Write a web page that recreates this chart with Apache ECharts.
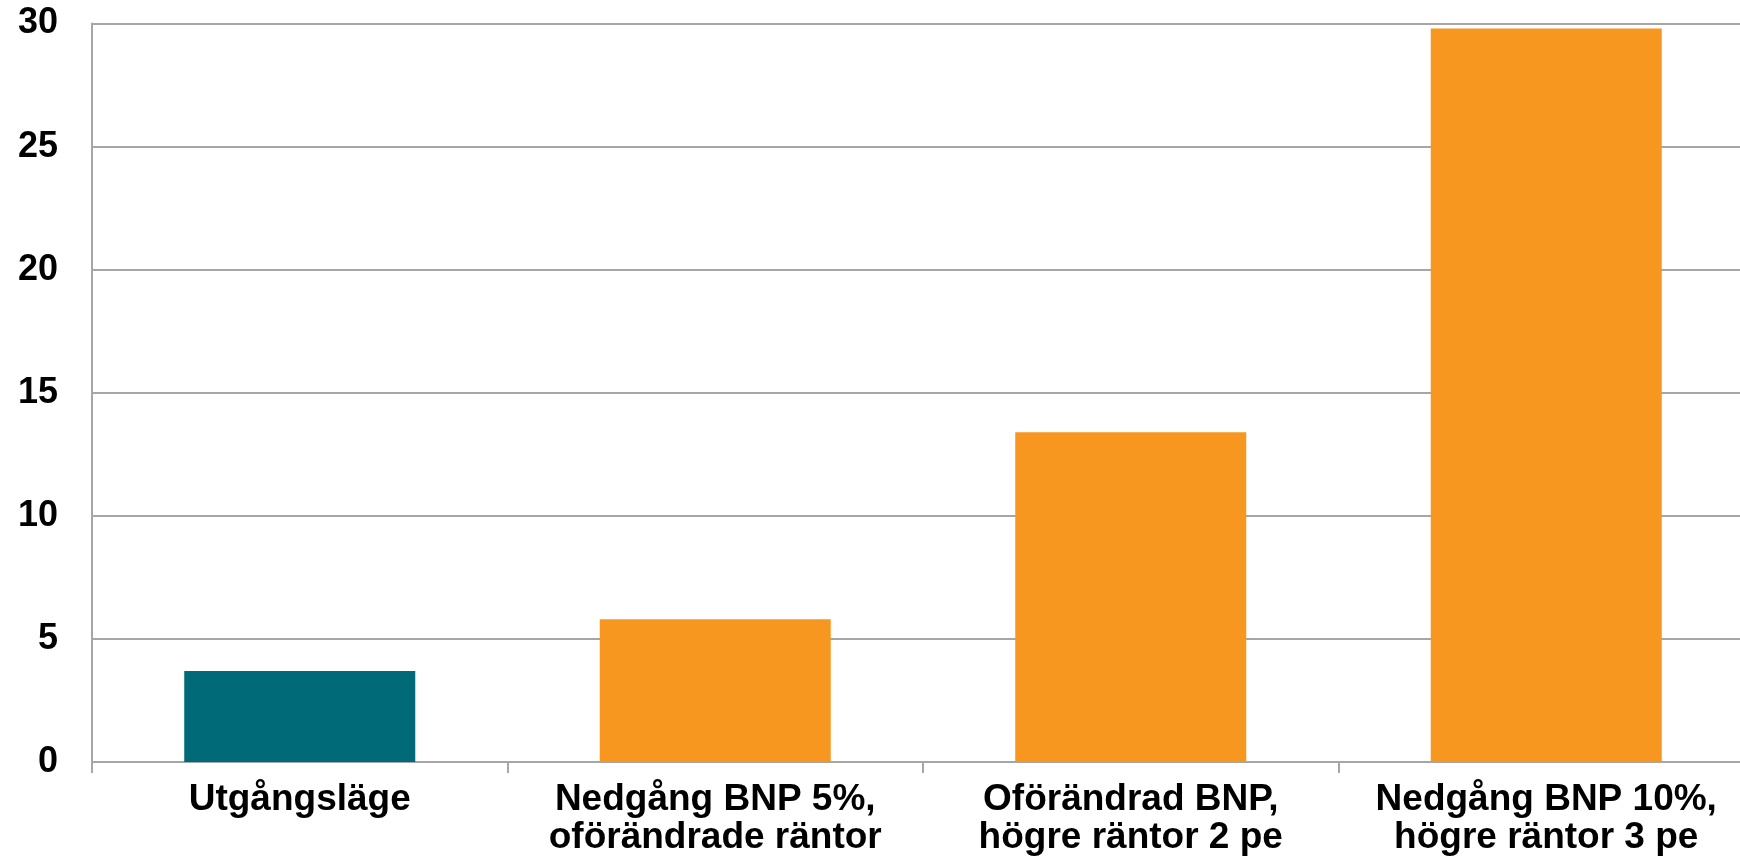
<!DOCTYPE html>
<html>
<head>
<meta charset="utf-8">
<script src="https://cdn.jsdelivr.net/npm/echarts@6/dist/echarts.min.js"></script>
<style>
  html, body { margin: 0; padding: 0; background: #ffffff; }
  #chart { width: 1740px; height: 858px; }
</style>
</head>
<body>
<div id="chart"></div>
<script>
// Scenario labels (second line is cut short in the source layout)
const categories = [
  'Utgångsläge',
  'Nedgång BNP 5%,\noförändrade räntor',
  'Oförändrad BNP,\nhögre räntor 2 pe',
  'Nedgång BNP 10%,\nhögre räntor 3 pe'
];
const values = [3.7, 5.8, 13.4, 29.8];
const barColors = ['#006a79', '#f7971f', '#f7971f', '#f7971f'];
const yTicks = { min: 0, max: 30, interval: 5 };

const axisGray = '#a6a6a6';
const font = '"Liberation Sans", Arial, Helvetica, sans-serif';

const chart = echarts.init(document.getElementById('chart'), null, { renderer: 'canvas' });

chart.setOption({
  animation: false,
  backgroundColor: '#ffffff',
  // plot area runs slightly past the right edge of the canvas
  grid: {
    left: 92, top: 23.5, width: 1662, height: 738.5,
    containLabel: false,
    outerBoundsMode: 'none'
  },
  xAxis: {
    type: 'category',
    data: categories,
    axisLine: { show: true, lineStyle: { color: axisGray, width: 2 } },
    axisTick: { show: true, length: 11, lineStyle: { color: axisGray, width: 2 } },
    axisLabel: {
      margin: 19,
      interval: 0,
      color: '#000000',
      fontFamily: font,
      fontWeight: 'bold',
      fontSize: 37,
      lineHeight: 38,
      align: 'center'
    }
  },
  yAxis: {
    type: 'value',
    min: yTicks.min,
    max: yTicks.max,
    interval: yTicks.interval,
    axisLine: { show: true, lineStyle: { color: axisGray, width: 2 } },
    axisTick: { show: false },
    splitLine: { show: true, lineStyle: { color: axisGray, width: 2 } },
    axisLabel: {
      margin: 34,
      color: '#000000',
      fontFamily: font,
      fontWeight: 'bold',
      fontSize: 36
    }
  },
  series: [{
    type: 'bar',
    data: values.map((v, i) => ({ value: v, itemStyle: { color: barColors[i] } })),
    barCategoryGap: '44.4%',
    z: 3
  }]
});
</script>
</body>
</html>
